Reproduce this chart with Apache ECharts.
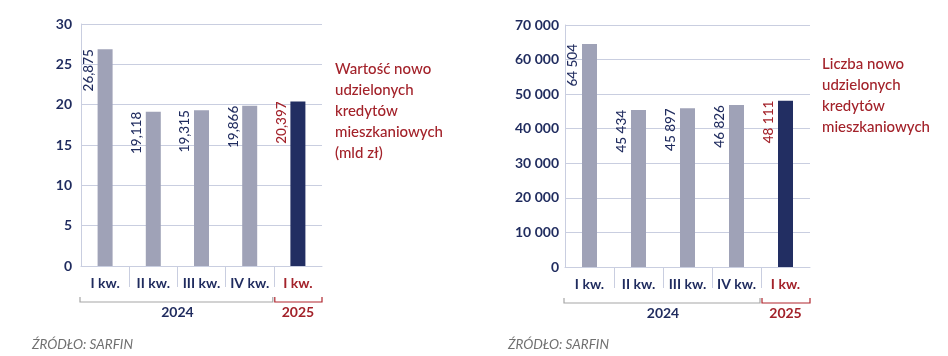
<!DOCTYPE html>
<html>
<head>
<meta charset="utf-8">
<script src="https://cdn.jsdelivr.net/npm/echarts@6/dist/echarts.min.js"></script>
<style>
html,body{margin:0;padding:0;background:#fff;}
#c{width:948px;height:356px;}
</style>
</head>
<body>
<div id="c"></div>
<script>
// ---- data ----
const categories = ['I kw.', 'II kw.', 'III kw.', 'IV kw.', 'I kw.'];
const years = ['2024', '2025'];
const loanValueBn = [26.875, 19.118, 19.315, 19.866, 20.397];
const loanCount = [64504, 45434, 45897, 46826, 48111];
const leftAxis = {min: 0, max: 30, interval: 5};
const rightAxis = {min: 0, max: 70000, interval: 10000};
const titleLeft = 'Wartość nowo\nudzielonych\nkredytów\nmieszkaniowych\n(mld zł)';
const titleRight = 'Liczba nowo\nudzielonych\nkredytów\nmieszkaniowych';
const sourceText = 'ŹRÓDŁO: SARFIN';

// ---- styles ----
const FONT = 'Lato';
const NAVY = '#1f2b5e';
const RED = '#a3222a';
const BAR_GRAY = '#9fa2b7';
const BAR_NAVY = '#222e62';
const GRID_COL = '#c9cee0';
const G = [
  {left: 81, top: 24, width: 241, height: 242},
  {left: 565, top: 25, width: 245, height: 242}
];

const fmtComma = v => v.toFixed(3).replace('.', ',');
const fmtSpace = v => String(v).replace(/\B(?=(\d{3})+(?!\d))/g, ' ');

function catData() {
  return categories.map((c, i) => i === categories.length - 1
    ? {value: c, textStyle: {color: RED}} : c);
}
function barData(vals) {
  return vals.map((v, i) => i === vals.length - 1
    ? {value: v, itemStyle: {color: BAR_NAVY}, label: {color: RED}}
    : {value: v});
}

const chart = echarts.init(document.getElementById('c'), null, {renderer: 'canvas'});

const xAxes = [];
const yAxes = [];
const series = [];
[0, 1].forEach(gi => {
  xAxes.push({
    type: 'category', gridIndex: gi, data: catData(),
    axisLine: {show: true, lineStyle: {color: GRID_COL, width: 1}},
    axisTick: {show: false},
    axisLabel: {interval: 0, color: NAVY, fontSize: 14, fontFamily: FONT, fontWeight: 'bold', margin: 10}
  });
});
[0, 1].forEach(gi => {
  xAxes.push({
    type: 'value', gridIndex: gi, position: 'top', offset: -G[gi].height,
    min: 0, max: categories.length,
    axisLine: {show: false}, axisLabel: {show: false}, splitLine: {show: false},
    axisTick: {show: true, inside: true, length: 21, customValues: [1, 2, 3, 4],
      lineStyle: {color: GRID_COL, width: 1}}
  });
});
[leftAxis, rightAxis].forEach((ax, gi) => {
  yAxes.push({
    type: 'value', gridIndex: gi, min: ax.min, max: ax.max, interval: ax.interval,
    axisLine: {show: true, lineStyle: {color: GRID_COL, width: 1}},
    axisTick: {show: false},
    splitLine: {show: true, lineStyle: {color: GRID_COL, width: 1}},
    axisLabel: {color: NAVY, fontSize: 14, fontFamily: FONT, fontWeight: 'bold',
      margin: gi === 0 ? 9 : 6, formatter: gi === 0 ? (v => String(v)) : fmtSpace}
  });
});
[[loanValueBn, fmtComma], [loanCount, fmtSpace]].forEach(([vals, fmt], gi) => {
  series.push({
    type: 'bar', xAxisIndex: gi, yAxisIndex: gi, data: barData(vals),
    barWidth: 15, itemStyle: {color: BAR_GRAY},
    label: {show: true, position: [-2, 0], rotate: 90, align: 'right', verticalAlign: 'bottom',
      color: NAVY, fontSize: 13.5, fontFamily: FONT, fontWeight: 500,
      formatter: p => fmt(p.value)}
  });
});

// brackets & year labels (layout decoration)
const graphics = [];
G.forEach(g => {
  const band = g.width / categories.length;
  const split = g.left + band * 4;
  const yL = g.top + g.height + 36;
  const yT = yL - 5;
  graphics.push({type: 'polyline', silent: true,
    shape: {points: [[g.left - 1, yT], [g.left - 1, yL], [split - 1, yL], [split - 1, yT]]},
    style: {stroke: '#a6a6a6', lineWidth: 1.2, fill: null}});
  graphics.push({type: 'polyline', silent: true,
    shape: {points: [[split + 1, yT], [split + 1, yL], [g.left + g.width, yL], [g.left + g.width, yT]]},
    style: {stroke: '#b0262e', lineWidth: 1.2, fill: null}});
  graphics.push({type: 'text', silent: true, x: (g.left + split) / 2, y: yL + 10,
    style: {text: years[0], fill: NAVY, font: 'bold 14px ' + FONT, align: 'center', verticalAlign: 'middle'}});
  graphics.push({type: 'text', silent: true, x: (split + g.left + g.width) / 2, y: yL + 10,
    style: {text: years[1], fill: RED, font: 'bold 14px ' + FONT, align: 'center', verticalAlign: 'middle'}});
});
[32, 508].forEach(x => {
  graphics.push({type: 'text', silent: true, x: x, y: 345,
    style: {text: sourceText, fill: '#707070', font: 'italic 13.5px ' + FONT, align: 'left', verticalAlign: 'middle'}});
});

chart.setOption({
  animation: false,
  backgroundColor: '#ffffff',
  grid: G.map(g => Object.assign({containLabel: false}, g)),
  xAxis: xAxes,
  yAxis: yAxes,
  series: series,
  title: [
    {text: titleLeft, left: 335, top: 59, padding: 0,
      textStyle: {color: RED, fontSize: 15, fontWeight: 500, fontFamily: FONT, lineHeight: 21}},
    {text: titleRight, left: 822, top: 54, padding: 0,
      textStyle: {color: RED, fontSize: 15, fontWeight: 500, fontFamily: FONT, lineHeight: 21}}
  ],
  graphic: graphics
});
</script>
</body>
</html>
